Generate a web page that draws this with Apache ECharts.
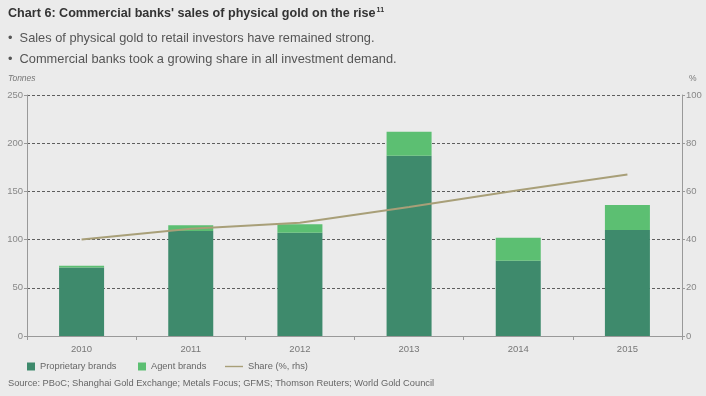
<!DOCTYPE html>
<html><head><meta charset="utf-8">
<script src="https://cdn.jsdelivr.net/npm/echarts@6/dist/echarts.min.js"></script>
<style>html,body{margin:0;padding:0;background:#ebebeb}#c{width:706px;height:396px}</style>
</head><body><div id="c"></div>
<script>
const years = ['2010','2011','2012','2013','2014','2015'];
const proprietary = [71, 109, 107, 187, 78, 110];
const agent = [2, 6, 9, 25, 24, 26];
const share = [40, 44.5, 47, 53.5, 60.5, 67];
const leftTicks = [0, 50, 100, 150, 200, 250];
const rightTicks = [0, 20, 40, 60, 80, 100];

const FONT = 'Liberation Sans, Arial, sans-serif';
const chart = echarts.init(document.getElementById('c'));
const gridLine = {show: true, lineStyle: {color: '#5e5e5e', type: [3, 2], width: 1}};
const legText = {fontSize: 9.3, color: '#666', fontFamily: FONT};
chart.setOption({
  backgroundColor: '#ebebeb',
  textStyle: {fontFamily: FONT},
  title: [
    {text: "Chart 6: Commercial banks' sales of physical gold on the rise{s|11}", left: 8, top: 7, padding: 0,
     textStyle: {fontSize: 12.6, fontWeight: 'bold', color: '#333', fontFamily: FONT,
       rich: {s: {fontSize: 7, fontWeight: 'bold', color: '#333', verticalAlign: 'top', padding: [0,0,6,1]}}}},
    {text: '•  Sales of physical gold to retail investors have remained strong.', left: 8, top: 32, padding: 0,
     textStyle: {fontSize: 12.8, fontWeight: 'normal', color: '#555', fontFamily: FONT}},
    {text: '•  Commercial banks took a growing share in all investment demand.', left: 8, top: 53, padding: 0,
     textStyle: {fontSize: 12.8, fontWeight: 'normal', color: '#555', fontFamily: FONT}},
    {text: 'Source: PBoC; Shanghai Gold Exchange; Metals Focus; GFMS; Thomson Reuters; World Gold Council', left: 8, top: 379, padding: 0,
     textStyle: {fontSize: 9.3, fontWeight: 'normal', color: '#666', fontFamily: FONT}}
  ],
  graphic: [
    {type: 'text', left: 8, top: 74, style: {text: 'Tonnes', fontSize: 8.5, fontStyle: 'italic', fill: '#777', fontFamily: FONT}},
    {type: 'text', left: 689, top: 74, style: {text: '%', fontSize: 8.5, fill: '#777', fontFamily: FONT}}
  ],
  legend: [
    {left: 22, top: 357, itemWidth: 8, itemHeight: 8, itemGap: 30, textStyle: legText,
     data: [{name: 'Proprietary brands', icon: 'rect'}]},
    {left: 133, top: 357, itemWidth: 8, itemHeight: 8, itemGap: 30, textStyle: legText,
     data: [{name: 'Agent brands', icon: 'rect'}]},
    {left: 220, top: 357, itemWidth: 18, itemHeight: 8, itemGap: 30, textStyle: legText,
     data: [{name: 'Share (%, rhs)', icon: 'path://M0,3.3 L18,3.3 L18,4.7 L0,4.7 Z', itemStyle: {color: '#a89f78'}}]}
  ],
  grid: {left: 27, right: 24, top: 95, bottom: 60},
  xAxis: {
    type: 'category', data: years,
    axisLine: {lineStyle: {color: '#999'}},
    axisTick: {show: true, lineStyle: {color: '#999'}, length: 4},
    axisLabel: {fontSize: 9.5, color: '#777', margin: 8}
  },
  yAxis: [
    {type: 'value', min: 0, max: 250, interval: 50,
     axisLine: {show: true, lineStyle: {color: '#999'}},
     axisTick: {show: true, length: 3, lineStyle: {color: '#999'}},
     axisLabel: {fontSize: 9.5, color: '#888', margin: 4},
     splitLine: gridLine},
    {type: 'value', min: 0, max: 100, interval: 20,
     axisLine: {show: true, lineStyle: {color: '#999'}},
     axisTick: {show: true, length: 3, lineStyle: {color: '#999'}},
     axisLabel: {fontSize: 9.5, color: '#888', margin: 4},
     splitLine: {show: false}}
  ],
  series: [
    {name: 'Proprietary brands', type: 'bar', stack: 't', data: proprietary, barWidth: 45,
     itemStyle: {color: '#3e8a6c'}},
    {name: 'Agent brands', type: 'bar', stack: 't', data: agent, barWidth: 45,
     itemStyle: {color: '#5cbf72'}},
    {name: 'Share (%, rhs)', type: 'line', yAxisIndex: 1, data: share, symbol: 'none',
     lineStyle: {color: '#a89f78', width: 2}, itemStyle: {color: '#a89f78'}, z: 5}
  ]
});
</script></body></html>
